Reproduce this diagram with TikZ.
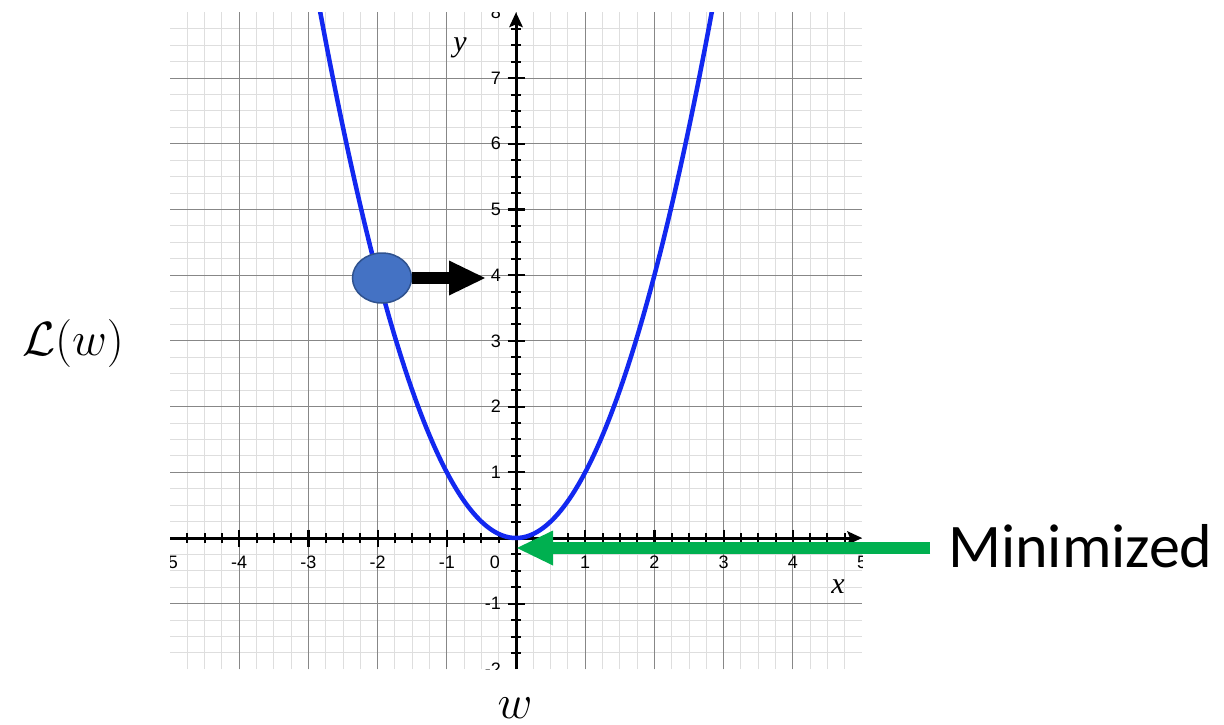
\RequirePackage{fix-cm}
\documentclass[tikz,border=0pt]{standalone}
\usepackage{fontspec}
\usetikzlibrary{arrows.meta,shapes.geometric}
\newfontfamily\calibri{Carlito}
\newfontfamily\helv{Liberation Sans}
\newfontfamily\timesf{Liberation Serif}
\definecolor{curveblue}{RGB}{18,40,240}
\definecolor{ballfill}{RGB}{68,114,196}
\definecolor{balldraw}{RGB}{47,82,143}
\definecolor{mingreen}{RGB}{0,176,80}
\definecolor{majgrid}{RGB}{135,135,135}
\definecolor{mingrid}{RGB}{222,222,222}
\begin{document}
\begin{tikzpicture}[x=1pt,y=-1pt,
  ticklabel/.style={font=\helv\fontsize{18}{18}\selectfont, inner sep=0pt},
  minorline/.style={mingrid, line width=1pt},
  majorline/.style={majgrid, line width=1pt},
  axisline/.style={black, line width=3pt, -{Stealth[length=15pt,width=14pt,inset=3pt,line width=0pt]}},
  minortick/.style={black, line width=2pt},
  majortick/.style={black, line width=2.2pt},
  bigarrow/.style={line width=12pt, -{Triangle[length=36pt,width=35pt,line width=0pt]}},
  axislabel/.style={font=\timesf\itshape\fontsize{30}{30}\selectfont, inner sep=0pt},
  mathlabel/.style={font=\fontsize{48}{48}\selectfont, inner sep=0pt}]
\useasboundingbox (0,0) rectangle (1224,725);
\begin{scope}[shift={(516,538)},x=69.2pt,y=65.7pt]
  \begin{scope}
    \clip (-5,-2) rectangle (5,8);
    % grid
    \foreach \i in {-19,...,19} \draw[minorline] (\i/4,-2) -- (\i/4,8);
    \foreach \j in {-7,...,31} \draw[minorline] (-5,\j/4) -- (5,\j/4);
    \foreach \i in {-4,...,4} \draw[majorline] (\i,-2) -- (\i,8);
    \foreach \j in {-1,...,7} \draw[majorline] (-5,\j) -- (5,\j);
    % tick labels
    \foreach \i in {-5,-4,-3,-2,-1,1,2,3,4,5}
      \node[ticklabel] at ([yshift=-24pt]\i,0) {\i};
    \foreach \j in {-2,-1,1,2,3,4,5,6,7,8}
      \node[ticklabel, anchor=east] at ([xshift=-15pt]0,\j) {\j};
    \node[ticklabel, anchor=east] at ([xshift=-16pt,yshift=-24pt]0,0) {0};
    % ticks
    \foreach \i in {-19,...,19} \draw[minortick] ([yshift=5pt]\i/4,0) -- ([yshift=-5pt]\i/4,0);
    \foreach \j in {-7,...,31} \draw[minortick] ([xshift=-5pt]0,\j/4) -- ([xshift=5pt]0,\j/4);
    \foreach \i in {-4,...,4} \draw[majortick] ([yshift=8.5pt]\i,0) -- ([yshift=-8.5pt]\i,0);
    \foreach \j in {-1,...,7} \draw[majortick] ([xshift=-8.5pt]0,\j) -- ([xshift=8.5pt]0,\j);
    % axes
    \draw[axisline] (-5,0) -- (5,0);
    \draw[axisline] (0,-2) -- (0,8);
    % curve
    \draw[curveblue, line width=4.5pt, line join=round]
      plot[domain=-2.87:2.87, samples=161, smooth] (\x,{\x*\x});
  \end{scope}
\end{scope}
% axis letters
\node[axislabel] (ylab) at (460,48) {y};
\node[axislabel] (xlab) at (838,587) {x};
% ball and arrow
\node[ellipse, fill=ballfill, draw=balldraw, line width=1.5pt,
      minimum width=59pt, minimum height=50pt, inner sep=0pt] (ball) at (382,278) {};
\coordinate (btip) at (485,278);
\draw[bigarrow, black] (ball.east) -- (btip);
% green arrow
\coordinate (gstart) at (930,548);
\coordinate (gtip) at (517,548);
\draw[bigarrow, mingreen] (gstart) -- (gtip);
\node[anchor=base west, font=\calibri\fontsize{62}{62}\selectfont, inner sep=0pt] (mintext) at (948,567) {Minimized};
% math labels
\node[mathlabel] (loss) at (73,343) {$\mathcal{L}(w)$};
\node[mathlabel, anchor=base] (wlab) at (515,718) {$w$};
\end{tikzpicture}
\end{document}
